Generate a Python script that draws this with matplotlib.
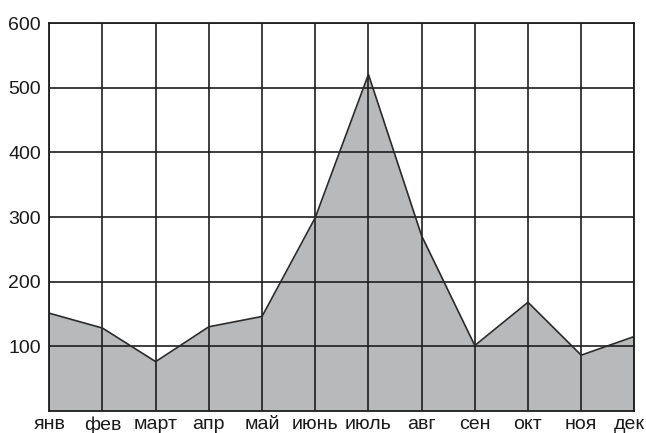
import matplotlib
matplotlib.use("Agg")
import matplotlib.pyplot as plt
from matplotlib.transforms import ScaledTranslation

months = ["янв", "фев", "март", "апр", "май", "июнь", "июль", "авг", "сен", "окт", "ноя", "дек"]
values = [151, 128, 76, 130, 146, 299, 521, 271, 101, 168, 86, 115]
yticks = [100, 200, 300, 400, 500, 600]

plt.rcParams['font.family'] = ['Liberation Sans', 'DejaVu Sans']

fig = plt.figure(figsize=(6.46, 4.33), dpi=100)
ax = fig.add_axes([0.0763, 0.0515, 0.9057, 0.8945])

x = list(range(len(months)))
ax.fill_between(x, values, 0, color='#b8b9bb', linewidth=0, zorder=1)
ax.plot(x, values, color='#2a2a2a', linewidth=1.2, zorder=3)

ax.set_xlim(0, len(months) - 1)
ax.set_ylim(0, 600)
ax.set_xticks(x)
ax.set_xticklabels(months)
ax.set_yticks(yticks)
ax.set_yticklabels([str(v) for v in yticks])

ax.grid(True, color='#1e1e1e', linewidth=1.2)
ax.set_axisbelow(False)
for s in ax.spines.values():
    s.set_color('#1e1e1e')
    s.set_linewidth(1.3)
    s.set_zorder(4)

ax.tick_params(axis='both', length=0, labelsize=14, colors='#1a1a1a')
ax.tick_params(axis='y', pad=6)
ax.tick_params(axis='x', pad=4)

# shift the last month label left so it stays inside the figure
last = ax.get_xticklabels()[-1]
last.set_transform(last.get_transform() + ScaledTranslation(-0.05, 0, fig.dpi_scale_trans))

fig.savefig('out.png', dpi=100)
